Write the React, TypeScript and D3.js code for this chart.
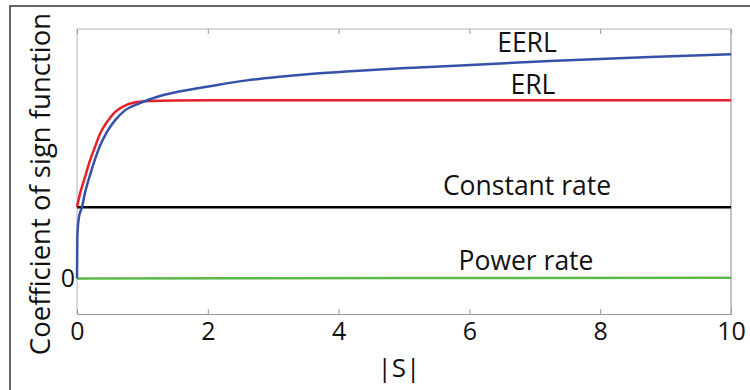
import React, { useEffect, useRef } from 'react';
import * as d3 from 'd3';

// |S| and coefficient values
const erlS = [0, 0.046, 0.122, 0.199, 0.275, 0.352, 0.454, 0.581, 0.708, 0.913, 1.12, 1.5, 2, 4, 6, 8, 10];
const erlV = [1.0, 1.19, 1.42, 1.656, 1.843, 2.03, 2.19, 2.334, 2.414, 2.474, 2.49, 2.498, 2.5, 2.5, 2.5, 2.5, 2.5];

const eerlS = [0, 0.003, 0.008, 0.03, 0.076, 0.122, 0.199, 0.275, 0.352, 0.454, 0.581, 0.734, 0.963, 1.22, 1.58, 2.08, 2.595, 3.1, 3.61, 4.12, 4.63, 5.14, 5.86, 7.23, 8.76, 10];
const eerlV = [0, 0.4, 0.65, 0.86, 1.0, 1.2, 1.45, 1.67, 1.86, 2.05, 2.218, 2.358, 2.46, 2.545, 2.625, 2.705, 2.779, 2.83, 2.872, 2.905, 2.933, 2.957, 2.989, 3.05, 3.106, 3.144];

const constS = [0, 10];
const constV = [1, 1];

const powerS = [0, 5, 10];
const powerV = [0, 0.005, 0.01];

const xTicks = [0, 2, 4, 6, 8, 10];
const yTicks = [0];

const series = [
  { name: 'Power rate', s: powerS, v: powerV, color: '#5cb848', lx: 526, ly: 270 },
  { name: 'Constant rate', s: constS, v: constV, color: '#000000', lx: 527, ly: 195 },
  { name: 'ERL', s: erlS, v: erlV, color: '#e8202a', lx: 533, ly: 94 },
  { name: 'EERL', s: eerlS, v: eerlV, color: '#3352a8', lx: 527, ly: 52 },
];

export default function App() {
  const ref = useRef<SVGSVGElement | null>(null);

  useEffect(() => {
    const W = 750, H = 390;
    const margin = { top: 29, right: 19, bottom: 76, left: 77 };
    const width = W - margin.left - margin.right;
    const height = H - margin.top - margin.bottom;
    const font = "'Open Sans', sans-serif";

    const svg = d3.select(ref.current);
    svg.selectAll('*').remove();
    svg.attr('width', W).attr('height', H);

    svg.append('rect')
      .attr('x', 10).attr('y', 6)
      .attr('width', 780).attr('height', 420)
      .attr('fill', 'none').attr('stroke', '#333').attr('stroke-width', 1.5);

    const g = svg.append('g').attr('transform', `translate(${margin.left},${margin.top})`);

    const x = d3.scaleLinear().domain([0, 10]).range([0, width]);
    const y = d3.scaleLinear().domain([-0.5, 3.5]).range([height, 0]);

    // frame
    g.append('line').attr('x1', 0).attr('x2', width).attr('y1', 0).attr('y2', 0).attr('stroke', '#b5b5b5');
    g.append('line').attr('x1', 0).attr('x2', 0).attr('y1', 0).attr('y2', height).attr('stroke', '#b5b5b5');
    g.append('line').attr('x1', width).attr('x2', width).attr('y1', 0).attr('y2', height).attr('stroke', '#888');

    const xAxis = g.append('g')
      .attr('transform', `translate(0,${height})`)
      .call(d3.axisBottom(x).tickValues(xTicks).tickSize(-5).tickPadding(8).tickFormat(d3.format('d')));
    xAxis.select('.domain').attr('stroke', '#999');
    xAxis.selectAll('.tick line').attr('stroke', '#999');
    xAxis.selectAll('text').attr('font-family', font).attr('font-size', 25).attr('fill', '#111');

    const topAxis = g.append('g')
      .call(d3.axisTop(x).tickValues(xTicks).tickSize(-5).tickFormat(() => ''));
    topAxis.select('.domain').remove();
    topAxis.selectAll('.tick line').attr('stroke', '#999');

    const yAxis = g.append('g')
      .call(d3.axisLeft(y).tickValues(yTicks).tickSize(-5).tickPadding(2).tickFormat(d3.format('d')));
    yAxis.select('.domain').remove();
    yAxis.selectAll('.tick line').attr('stroke', '#999');
    yAxis.selectAll('text').attr('font-family', font).attr('font-size', 25).attr('fill', '#111');

    const line = d3.line<[number, number]>()
      .x(d => x(d[0]))
      .y(d => y(d[1]))
      .curve(d3.curveMonotoneX);

    series.forEach(sr => {
      const pts = sr.s.map((s, i) => [s, sr.v[i]] as [number, number]);
      g.append('path')
        .datum(pts)
        .attr('d', line)
        .attr('fill', 'none')
        .attr('stroke', sr.color)
        .attr('stroke-width', 2.5);
      svg.append('text')
        .attr('x', sr.lx).attr('y', sr.ly)
        .attr('text-anchor', 'middle')
        .attr('font-family', font).attr('font-size', 26.5)
        .attr('fill', '#111')
        .text(sr.name);
    });

    svg.append('text')
      .attr('x', 399).attr('y', 377)
      .attr('text-anchor', 'middle')
      .attr('font-family', font).attr('font-size', 26)
      .attr('fill', '#111')
      .text('|S|');

    svg.append('text')
      .attr('transform', 'translate(50,184) rotate(-90)')
      .attr('text-anchor', 'middle')
      .attr('font-family', font).attr('font-size', 27.5)
      .attr('fill', '#111')
      .text('Coefficient of sign function');
  }, []);

  return <svg ref={ref} style={{ position: 'absolute', left: 0, top: 0 }} />;
}
